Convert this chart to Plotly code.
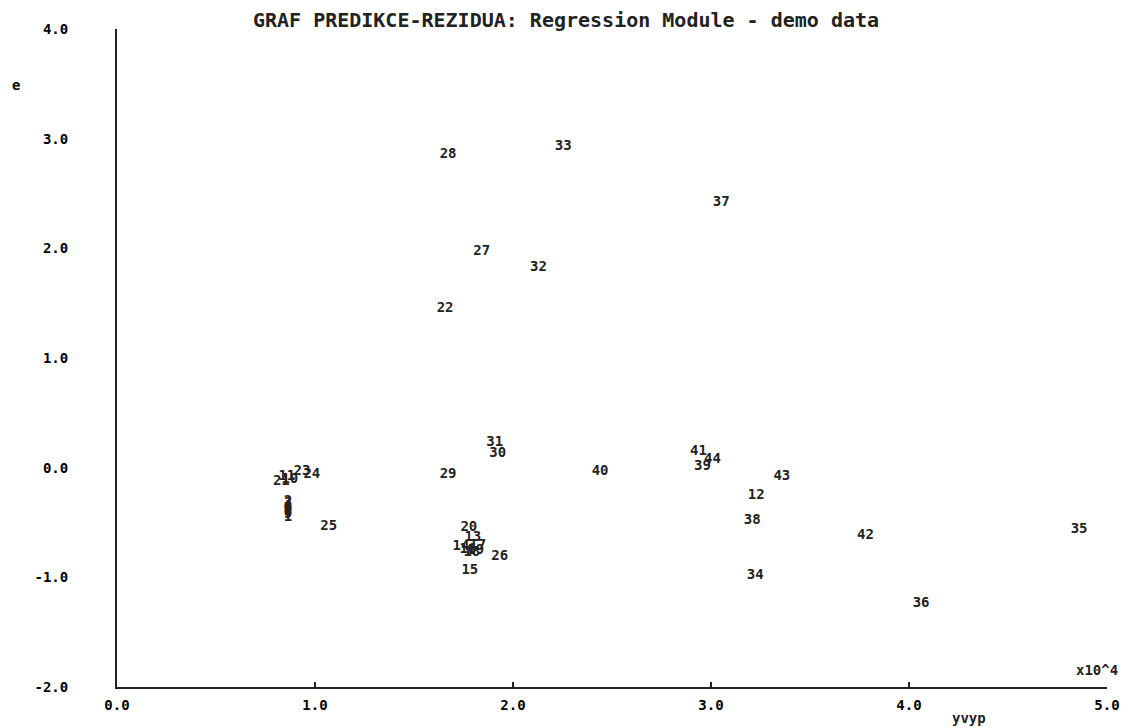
import plotly.graph_objects as go

# observation numbers
labels = ["1", "2", "3", "4", "5", "6", "7", "8", "9", "10", "11",
          "12", "13", "14", "15", "16", "17", "18", "19", "20", "21",
          "22", "23", "24", "25", "26", "27", "28", "29", "30", "31",
          "32", "33", "34", "35", "36", "37", "38", "39", "40", "41",
          "42", "43", "44"]
# predicted values (x10^4)
yvyp = [0.863, 0.863, 0.863, 0.863, 0.863, 0.863, 0.863, 0.863, 0.863, 0.873, 0.858,
        3.228, 1.797, 1.737, 1.782, 1.772, 1.822, 1.792, 1.812, 1.777, 0.830,
        1.657, 0.934, 0.984, 1.069, 1.933, 1.842, 1.672, 1.672, 1.923, 1.908,
        2.129, 2.254, 3.223, 4.859, 4.061, 3.052, 3.208, 2.957, 2.440, 2.937,
        3.780, 3.358, 3.007]
# residuals
e = [-0.45, -0.31, -0.33, -0.35, -0.37, -0.38, -0.40, -0.41, -0.43, -0.104, -0.085,
     -0.251, -0.633, -0.716, -0.934, -0.743, -0.706, -0.770, -0.752, -0.541, -0.122,
     1.455, -0.031, -0.058, -0.532, -0.806, 1.974, 2.858, -0.058, 0.133, 0.233,
     1.821, 2.930, -0.979, -0.560, -1.234, 2.421, -0.478, 0.015, -0.031, 0.151,
     -0.614, -0.077, 0.078]

x_ticks = [0, 1, 2, 3, 4, 5]
x_ticktext = ["0.0", "1.0", "2.0", "3.0", "4.0", "5.0"]
y_ticks = [-2, -1, 0, 1, 2, 3, 4]
y_ticktext = ["-2.0", "-1.0", "0.0", "1.0", "2.0", "3.0", "4.0"]

FONT = "DejaVu Sans Mono"
TXT = dict(family=FONT, size=14, color="black", weight="bold")

fig = go.Figure()
fig.add_trace(go.Scatter(
    x=yvyp, y=e, text=labels, mode="text",
    textposition="middle center",
    textfont=dict(family=FONT, size=14, color="#222222"),
    hoverinfo="x+y+text", showlegend=False,
))

fig.update_layout(
    width=1132, height=728,
    margin=dict(l=117, r=19, t=29, b=41),
    paper_bgcolor="white", plot_bgcolor="white",
    font=TXT,
    title=dict(text="GRAF PREDIKCE-REZIDUA: Regression Module - demo data",
               x=0.5, xanchor="center", xref="container",
               y=1 - 20 / 728, yanchor="middle", yref="container",
               font=dict(family=FONT, size=20, color="#222222")),
    xaxis=dict(range=[0, 5], tickvals=x_ticks, ticktext=x_ticktext,
               showline=True, linecolor="#222222", linewidth=2,
               ticks="inside", ticklen=5, tickwidth=2, tickcolor="#222222",
               showgrid=False, zeroline=False, mirror=False,
               ticklabelstandoff=4,
               tickfont=TXT),
    yaxis=dict(range=[-2, 4], tickvals=y_ticks, ticktext=y_ticktext,
               showline=True, linecolor="#222222", linewidth=2,
               ticks="", showgrid=False, zeroline=False,
               ticklabelstandoff=44,
               tickfont=TXT),
    annotations=[
        dict(text="e", xref="paper", yref="paper", x=-0.1024, y=0.915,
             xanchor="center", yanchor="middle",
             showarrow=False, font=TXT),
        dict(text="yvyp", xref="paper", yref="paper", x=0.861, y=-0.047,
             xanchor="center", yanchor="middle",
             showarrow=False, font=dict(family=FONT, size=14, color="#222222")),
        dict(text="x10^4", xref="paper", yref="paper", x=0.99, y=0.026,
             xanchor="center", yanchor="middle",
             showarrow=False, font=dict(family=FONT, size=14, color="#222222")),
    ],
)

fig.write_html("out.html")
